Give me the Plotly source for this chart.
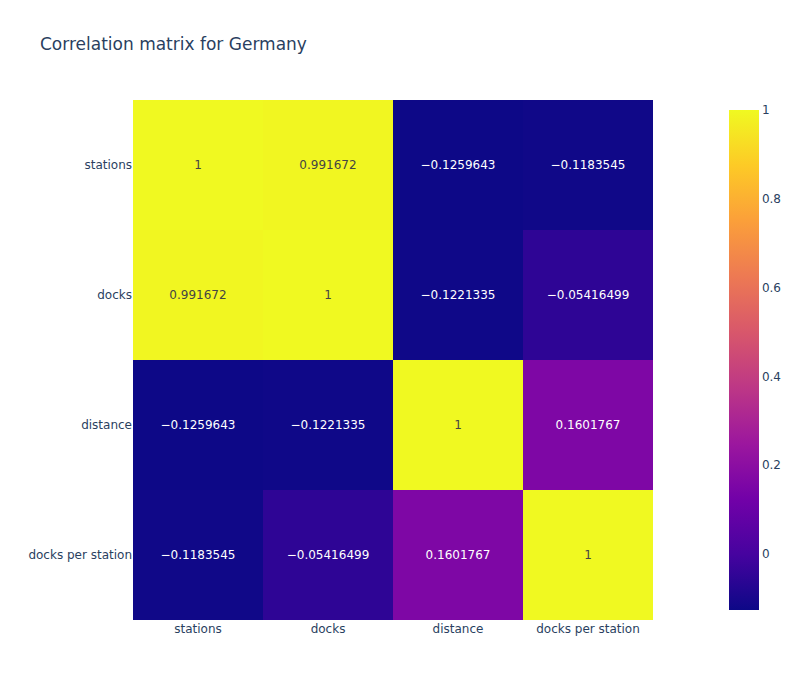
import plotly.express as px
import numpy as np

labels = ["stations", "docks", "distance", "docks per station"]
row_stations = [1, 0.991672, -0.1259643, -0.1183545]
row_docks = [0.991672, 1, -0.1221335, -0.05416499]
row_distance = [-0.1259643, -0.1221335, 1, 0.1601767]
row_dps = [-0.1183545, -0.05416499, 0.1601767, 1]

z = np.array([row_stations, row_docks, row_distance, row_dps])

fig = px.imshow(
    z,
    x=labels,
    y=labels,
    text_auto=True,
    color_continuous_scale="plasma",
    title="Correlation matrix for Germany",
)
fig.update_layout(width=800, height=700, font=dict(family="Verdana, DejaVu Sans, sans-serif"))
fig.write_html(
    "out.html",
    config={"displayModeBar": False},
    post_script="document.body.style.margin='0px';",
)
